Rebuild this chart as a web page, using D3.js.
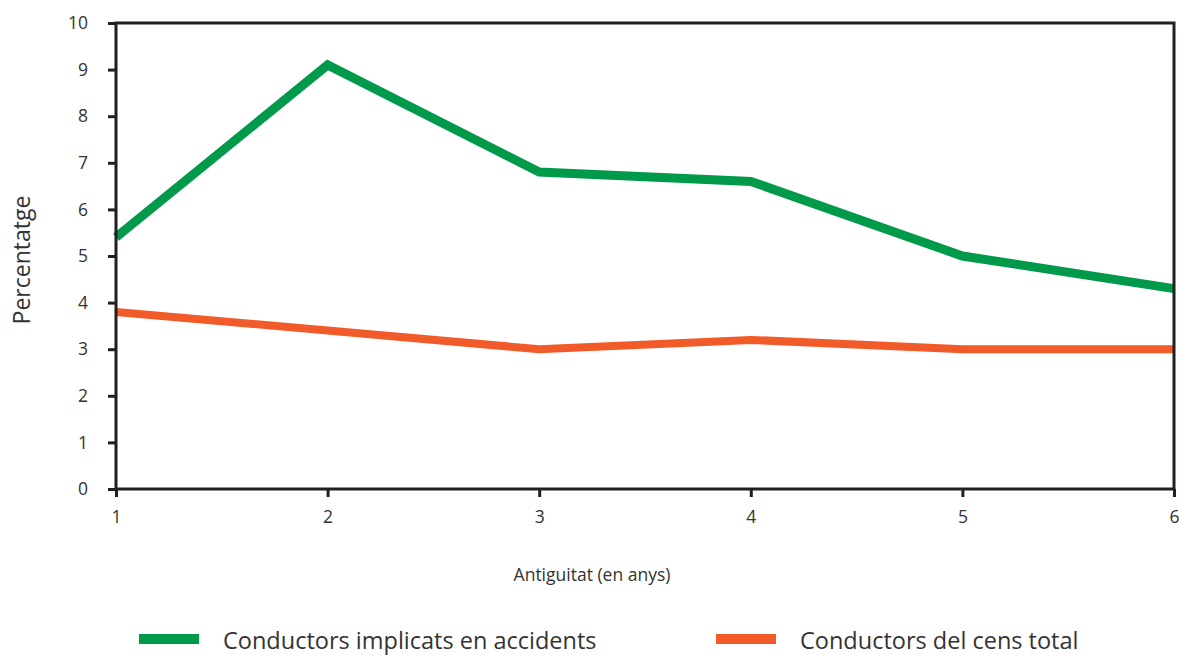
<!DOCTYPE html>
<html><head><meta charset="utf-8">
<script src="https://cdn.jsdelivr.net/npm/d3@7"></script>
<style>body{margin:0;background:#fff}svg{display:block}text{font-family:"Open Sans","Noto Sans",sans-serif;fill:#333}</style>
</head><body>
<svg id="c" width="1179" height="657"></svg>
<script>
const years = [1, 2, 3, 4, 5, 6];
const accidents = [5.4, 9.1, 6.8, 6.6, 5.0, 4.3];
const census = [3.8, 3.4, 3.0, 3.2, 3.0, 3.0];
const yTicks = [0,1,2,3,4,5,6,7,8,9,10];
const seriesNames = ["Conductors implicats en accidents", "Conductors del cens total"];
const colors = ["#009a4a", "#f15a29"];

const svg = d3.select("#c");
const L = 116, R = 1174, T = 23, B = 489;
const x = d3.scaleLinear().domain([1, 6]).range([L, R]);
const y = d3.scaleLinear().domain([0, 10]).range([B, T]);

const line = d3.line().x((d,i)=>x(years[i])).y(d=>y(d));
svg.append("path").datum(census).attr("d", line).attr("fill","none")
  .attr("stroke", colors[1]).attr("stroke-width", 8);
svg.append("path").datum(accidents).attr("d", line).attr("fill","none")
  .attr("stroke", colors[0]).attr("stroke-width", 9).attr("stroke-linejoin","miter");

// frame
svg.append("rect").attr("x", L).attr("y", T).attr("width", R-L).attr("height", B-T)
  .attr("fill","none").attr("stroke","#231f20").attr("stroke-width",3);

const yAxis = svg.append("g").attr("transform", `translate(${L},0)`)
  .call(d3.axisLeft(y).tickValues(yTicks).tickSize(8).tickPadding(20).tickFormat(d3.format("d")));
yAxis.select(".domain").remove();
yAxis.selectAll("line").attr("stroke","#231f20").attr("stroke-width",3);
yAxis.selectAll("text").attr("font-size",17.5).attr("fill","#333");

const xAxis = svg.append("g").attr("transform", `translate(0,${B})`)
  .call(d3.axisBottom(x).tickValues(years).tickSize(8).tickPadding(14).tickFormat(d3.format("d")));
xAxis.select(".domain").remove();
xAxis.selectAll("line").attr("stroke","#231f20").attr("stroke-width",3);
xAxis.selectAll("text").attr("font-size",17.5).attr("fill","#333");

svg.append("text").attr("x", 592).attr("y", 581).attr("text-anchor","middle")
  .attr("font-size",17.5).text("Antiguitat (en anys)");
svg.append("text").attr("transform","translate(30,260) rotate(-90)").attr("text-anchor","middle")
  .attr("font-size",23).text("Percentatge");

const leg = [{x:139, tx:223}, {x:716, tx:800}];
seriesNames.forEach((n,i)=>{
  svg.append("rect").attr("x", leg[i].x).attr("y", 634).attr("width", 60).attr("height", 10).attr("fill", colors[i]);
  svg.append("text").attr("x", leg[i].tx).attr("y", 649).attr("font-size", 23.5).text(n);
});
</script>
</body></html>
